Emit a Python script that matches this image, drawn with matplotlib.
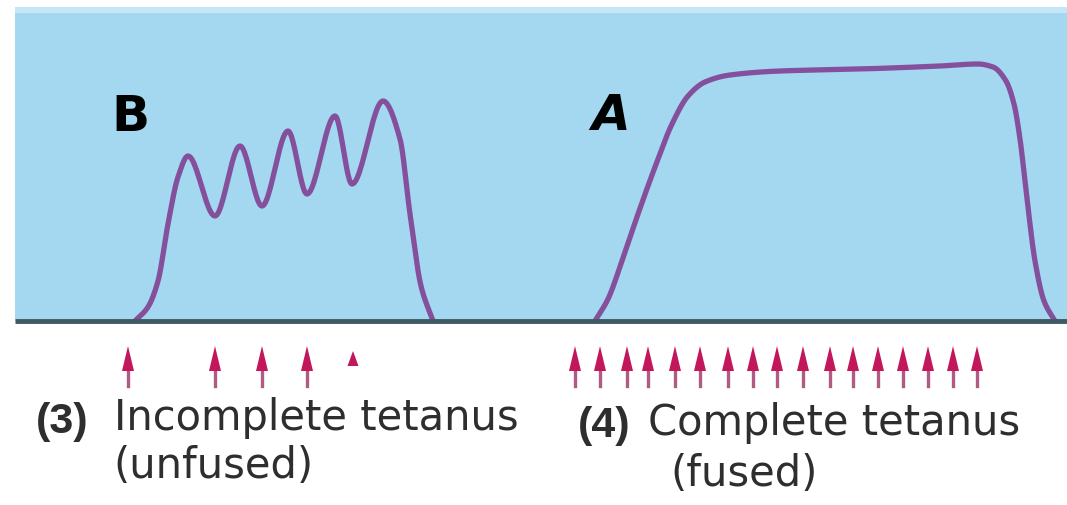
import numpy as np
import matplotlib.pyplot as plt
from matplotlib.patches import Rectangle

# twitch traces (x, y in image pixels, y down)
b_x = [135, 148, 158, 168, 178, 188, 215, 240, 262, 288, 307, 335, 352, 383, 400, 410, 421, 433]
b_y = [322, 308, 282, 225, 178, 157, 217, 147, 207, 132, 195, 117, 185, 102, 140, 215, 287, 322]

a_x = [595, 608, 622, 638, 655, 672, 688, 705, 730, 780, 860, 940, 978, 993, 1006, 1014, 1020, 1027, 1035, 1044, 1055]
a_y = [322, 300, 262, 215, 168, 125, 97, 83, 76, 72, 70, 67, 65, 68, 82, 105, 140, 200, 262, 302, 322]

# stimulus arrows
b_stim = [128, 215, 262, 307, 353]
a_stim = [575, 600, 627, 648, 675, 700, 728, 753, 777, 803, 830, 853, 878, 903, 928, 953, 977]

BLUE = '#a4d8f0'
PURPLE = '#85509b'
PINK = '#c2185b'
TXT = '#2e2e2e'


def pchip(xs, ys, n=25):
    # monotone cubic through the read points (flat at peaks and troughs)
    x = np.asarray(xs, float)
    y = np.asarray(ys, float)
    h = np.diff(x)
    s = np.diff(y) / h
    d = np.zeros_like(y)
    for k in range(1, len(x) - 1):
        if s[k - 1] * s[k] > 0:
            w1 = 2 * h[k] + h[k - 1]
            w2 = h[k] + 2 * h[k - 1]
            d[k] = (w1 + w2) / (w1 / s[k - 1] + w2 / s[k])
    d[0] = s[0]
    d[-1] = s[-1]
    px, py = [], []
    for k in range(len(x) - 1):
        t = np.linspace(0, 1, n, endpoint=False)
        h00 = 2 * t ** 3 - 3 * t ** 2 + 1
        h10 = t ** 3 - 2 * t ** 2 + t
        h01 = -2 * t ** 3 + 3 * t ** 2
        h11 = t ** 3 - t ** 2
        px.append(x[k] + t * h[k])
        py.append(h00 * y[k] + h10 * h[k] * d[k] + h01 * y[k + 1] + h11 * h[k] * d[k + 1])
    px.append([x[-1]])
    py.append([y[-1]])
    return np.concatenate(px), np.concatenate(py)


fig = plt.figure(figsize=(10.67, 5.06), dpi=100)
ax = fig.add_axes([0, 0, 1, 1])
ax.set_xlim(0, 1067)
ax.set_ylim(506, 0)
ax.axis('off')

ax.add_patch(Rectangle((15, 10), 1052, 312, facecolor=BLUE, edgecolor='none', zorder=0))
ax.add_patch(Rectangle((15, 8), 1052, 6, facecolor='#c4e6f5', edgecolor='none', zorder=0))
ax.plot([15, 1067], [322, 322], color='#3f5a63', lw=3.5, zorder=3, solid_capstyle='butt')

for xs, ys in [(b_x, b_y), (a_x, a_y)]:
    sx, sy = pchip(xs, ys)
    ax.plot(sx, sy, color=PURPLE, lw=3.8, zorder=2, solid_capstyle='round')

for x in b_stim + a_stim:
    if x == b_stim[-1]:
        ax.arrow(x, 368, 0, -16, width=0.1, head_width=11, head_length=15,
                 length_includes_head=True, color=PINK, lw=0, zorder=3)
        continue
    ax.plot([x, x], [387, 368], color='#b05a84', lw=2.4, zorder=2)
    ax.arrow(x, 373, 0, -26, width=0.1, head_width=12, head_length=25,
             length_includes_head=True, color=PINK, lw=0, zorder=3)

ax.text(130, 117, 'B', fontsize=36, fontweight='bold', family='DejaVu Sans',
        ha='center', va='center', color='black')
ax.text(611, 116, 'A', fontsize=36, fontweight='bold', style='italic', family='DejaVu Sans',
        ha='center', va='center', color='black')

fs = 30
ax.text(36, 433, '(3)', fontsize=31, fontweight='bold', family='Liberation Sans', color=TXT, va='baseline')
ax.text(114, 430, 'Incomplete tetanus', fontsize=fs, family='DejaVu Sans', color=TXT, va='baseline')
ax.text(113, 478, '(unfused)', fontsize=fs, family='DejaVu Sans', color=TXT, va='baseline')
ax.text(578, 437, '(4)', fontsize=31, fontweight='bold', family='Liberation Sans', color=TXT, va='baseline')
ax.text(648, 435, 'Complete tetanus', fontsize=fs, family='DejaVu Sans', color=TXT, va='baseline')
ax.text(670, 486, '(fused)', fontsize=fs, family='DejaVu Sans', color=TXT, va='baseline')

plt.savefig('out.png', dpi=100, facecolor='white')
